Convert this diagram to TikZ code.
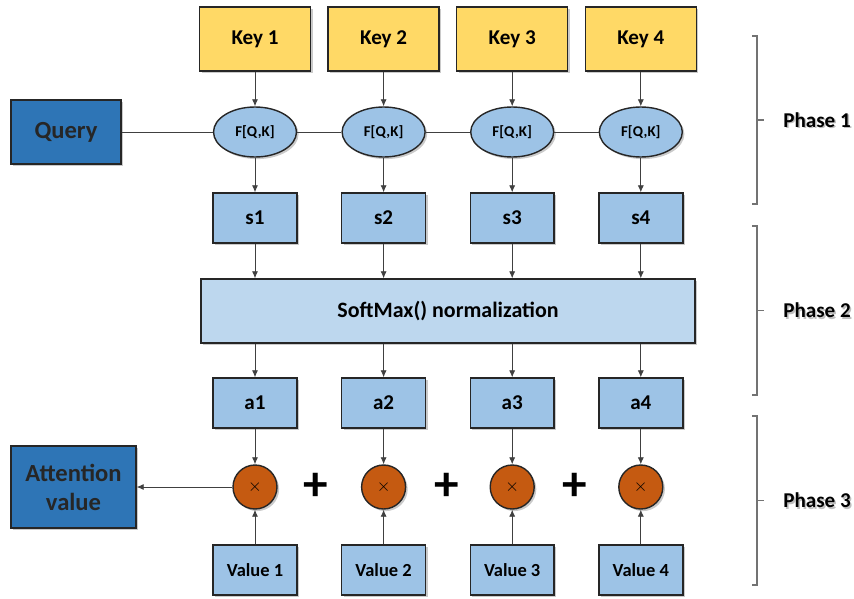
\documentclass[tikz,border=0pt]{standalone}
\usepackage{fontspec}
\setmainfont{Carlito}
\usetikzlibrary{arrows.meta,shapes.geometric,shadows}

\definecolor{keyfill}{HTML}{FFD966}
\definecolor{queryfill}{HTML}{2E75B6}
\definecolor{boxfill}{HTML}{9DC3E6}
\definecolor{softfill}{HTML}{BDD7EE}
\definecolor{mulfill}{HTML}{C55A11}
\definecolor{edge}{HTML}{262626}

\tikzset{
    shade box/.style={drop shadow={shadow xshift=1.2pt, shadow yshift=-1.2pt, opacity=0.35, fill=black!60}},
    keybox/.style={draw=edge, thick, fill=keyfill, shade box, minimum width=2.22cm, minimum height=1.28cm, font=\bfseries\fontsize{12}{14}\selectfont},
    darkbox/.style={draw=edge, thick, fill=queryfill, shade box, align=center, font=\bfseries\fontsize{14}{16.5}\selectfont, text=black!85},
    lightbox/.style={draw=edge, thick, fill=boxfill, shade box, minimum width=1.68cm, minimum height=1cm, font=\bfseries\fontsize{12}{14}\selectfont},
    scorefn/.style={ellipse, draw=edge, thick, fill=boxfill, shade box, minimum width=1.66cm, minimum height=1cm, inner sep=0pt, font=\bfseries\fontsize{8.5}{10}\selectfont},
    mulnode/.style={circle, draw=edge, thick, fill=mulfill, shade box, minimum size=0.88cm, inner sep=0pt},
    link/.style={draw=black!75, line width=0.5pt},
    flow/.style={link, -{Latex[length=4pt,width=3.5pt]}},
    bracket/.style={draw=black!55, line width=0.7pt},
    phase/.style={anchor=west, inner sep=0pt, font=\bfseries\fontsize{12}{14}\selectfont}
}

\begin{document}
\begin{tikzpicture}[x=0.02cm, y=-0.02cm]

    \useasboundingbox (0,0) rectangle (854,598);

    % Query and result
    \node[darkbox, minimum width=2.2cm, minimum height=1.28cm] (query) at (66,132) {Query};
    \node[darkbox, minimum width=2.5cm, minimum height=1.64cm] (attn) at (73.5,487) {Attention\\value};

    % SoftMax bar
    \node[lightbox, fill=softfill, minimum width=9.88cm, minimum height=1.28cm, font=\bfseries\fontsize{12.5}{14}\selectfont] (softmax) at (448,311) {SoftMax() normalization};

    % one column per key
    \foreach \i in {1,...,4} {
        \pgfmathsetmacro{\cx}{255+128.6*(\i-1)}
        \node[keybox] (key\i) at (\cx,39) {Key \i};
        \node[scorefn] (f\i) at (\cx,132) {F[Q,K]};
        \node[lightbox] (s\i) at (\cx,218) {s\i};
        \node[lightbox] (a\i) at (\cx,403) {a\i};
        \node[mulnode] (m\i) at (\cx,487) {\fontsize{10}{10}\selectfont$\times$};
        \node[lightbox, font=\bfseries\fontsize{10.5}{12}\selectfont] (val\i) at (\cx,570) {Value \i};

        \draw[flow] (key\i) -- (f\i);
        \draw[flow] (f\i) -- (s\i);
        \draw[flow] (s\i) -- (s\i |- softmax.north);
        \draw[flow] (softmax.south -| a\i) -- (a\i);
        \draw[flow] (a\i) -- (m\i);
        \draw[flow] (val\i) -- (m\i);
    }

    % query line through the score functions
    \draw[link] (query) -- (f1);
    \draw[link] (f1) -- (f2);
    \draw[link] (f2) -- (f3);
    \draw[link] (f3) -- (f4);
    \draw[flow] (m1) -- (attn);

    % plus signs between the products
    \foreach \px [count=\j] in {316,447,575} {
        \node[font=\bfseries\fontsize{28}{28}\selectfont] (plus\j) at (\px,487) {+};
    }

    % brackets for the phases
    \foreach \ya/\yb/\lbl in {36/204/1, 226/395/2, 416/585/3} {
        \draw[bracket] (752,\ya) -- (757,\ya) -- (757,\yb) -- (752,\yb);
        \draw[bracket] (757,{(\ya+\yb)/2}) -- (764,{(\ya+\yb)/2});
        \node[phase, text=black!25] at (784.5,{(\ya+\yb)/2+1.5}) {Phase \lbl};
        \node[phase] (phase\lbl) at (783,{(\ya+\yb)/2}) {Phase \lbl};
    }

\end{tikzpicture}
\end{document}
